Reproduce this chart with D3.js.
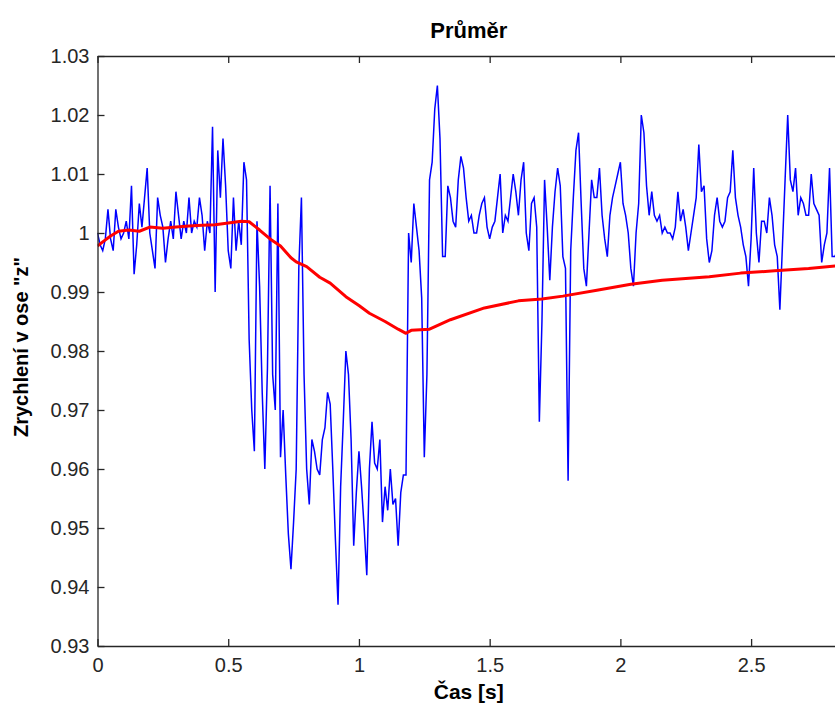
<!DOCTYPE html>
<html>
<head>
<meta charset="utf-8">
<script src="https://cdn.jsdelivr.net/npm/d3@7"></script>
<style>
  html, body { margin: 0; padding: 0; background: #fff; }
  svg { display: block; font-family: "Liberation Sans", Arial, sans-serif; }
  .axis path, .axis line { stroke: #262626; stroke-width: 1.3; }
  .axis text { fill: #262626; font-size: 20px; }
</style>
</head>
<body>
<div id="chart"></div>
<script>
  // ================================================
  // 1. DATA
  // ================================================
  const chartTitle = "Průměr";
  const xLabel = "Čas [s]";
  const yLabel = "Zrychlení v ose \"z\"";

  const xTicks = [0, 0.5, 1, 1.5, 2, 2.5];
  const xTickLabels = ["0", "0.5", "1", "1.5", "2", "2.5"];
  const yTicks = [0.93, 0.94, 0.95, 0.96, 0.97, 0.98, 0.99, 1.00, 1.01, 1.02, 1.03];
  const yTickLabels = ["0.93", "0.94", "0.95", "0.96", "0.97", "0.98", "0.99", "1", "1.01", "1.02", "1.03"];

  // measured signal (blue), one sample every 0.01 s starting at t = 0
  const sampleStep = 0.01;
  const accelZ = [
    1.000, 0.998, 0.997, 0.999, 1.004, 0.999, 0.997, 1.004, 1.001, 0.999,
    1.000, 1.002, 0.999, 1.008, 0.993, 0.998, 1.005, 1.001, 1.006, 1.011,
    1.000, 0.997, 0.994, 1.006, 1.003, 1.001, 0.995, 0.999, 1.002, 0.999,
    1.007, 1.003, 0.999, 1.002, 1.000, 1.006, 1.000, 1.002, 1.001, 1.006,
    1.003, 0.997, 1.002, 1.000, 1.018, 0.990, 1.014, 1.006, 1.016, 1.008,
    0.997, 0.994, 1.006, 0.997, 1.002, 0.998, 1.012, 1.009, 0.982, 0.970,
    0.963, 1.002, 0.991, 0.973, 0.960, 0.977, 1.008, 0.976, 0.970, 1.005,
    0.962, 0.970, 0.959, 0.949, 0.943, 0.951, 0.960, 0.994, 1.006, 0.976,
    0.960, 0.954, 0.965, 0.963, 0.960, 0.959, 0.965, 0.967, 0.973, 0.971,
    0.960, 0.948, 0.937, 0.957, 0.968, 0.980, 0.976, 0.965, 0.947, 0.956,
    0.963, 0.957, 0.950, 0.942, 0.960, 0.968, 0.961, 0.960, 0.965, 0.951,
    0.957, 0.953, 0.960, 0.954, 0.955, 0.947, 0.956, 0.959, 0.959, 1.000,
    0.995, 1.005, 1.001, 0.997, 0.989, 0.962, 0.976, 1.009, 1.012, 1.021,
    1.025, 1.016, 0.996, 0.996, 1.008, 1.006, 1.002, 1.001, 1.009, 1.013,
    1.011, 1.006, 1.002, 1.003, 1.000, 1.000, 1.003, 1.005, 1.006, 1.001,
    0.999, 1.001, 1.002, 1.006, 1.010, 1.000, 1.003, 1.002, 1.006, 1.010,
    1.007, 1.003, 1.009, 1.012, 1.000, 0.997, 1.005, 1.006, 1.001, 0.968,
    0.985, 1.009, 1.001, 0.992, 1.001, 1.007, 1.011, 1.008, 0.996, 0.994,
    0.958, 0.997, 1.006, 1.014, 1.017, 1.005, 0.994, 0.991, 1.000, 1.009,
    1.006, 1.006, 1.011, 1.003, 0.999, 0.996, 1.003, 1.006, 1.008, 1.010,
    1.012, 1.005, 1.003, 1.000, 0.994, 0.991, 1.000, 1.005, 1.020, 1.017,
    1.008, 1.003, 1.007, 1.003, 1.002, 1.003, 1.000, 1.001, 1.000, 1.000,
    0.999, 1.001, 1.007, 1.002, 1.004, 1.001, 0.997, 1.000, 1.003, 1.006,
    1.015, 1.007, 1.008, 0.999, 0.995, 0.997, 1.003, 1.006, 1.002, 1.001,
    1.002, 1.006, 1.007, 1.014, 1.006, 1.003, 1.001, 0.998, 0.996, 0.991,
    0.999, 1.011, 1.000, 0.995, 1.002, 1.002, 1.000, 1.006, 1.003, 0.998,
    0.996, 0.987, 0.998, 1.009, 1.020, 1.009, 1.007, 1.011, 1.003, 1.006,
    1.005, 1.003, 1.003, 1.010, 1.005, 1.004, 1.003, 0.995, 0.998, 1.000,
    1.011, 0.996, 0.996, 0.997
  ];

  // running mean (red)
  const meanTime = [
    0.00, 0.02, 0.05, 0.08, 0.12, 0.16, 0.20, 0.25, 0.30, 0.35,
    0.40, 0.45, 0.50, 0.55, 0.58, 0.62, 0.66, 0.70, 0.74, 0.76,
    0.80, 0.85, 0.89, 0.95, 1.00, 1.04, 1.10, 1.15, 1.18, 1.20,
    1.27, 1.35, 1.48, 1.61, 1.70, 1.78, 1.91, 2.04, 2.16, 2.34,
    2.46, 2.59, 2.72, 2.84
  ];
  const meanValue = [
    0.9978, 0.9985, 0.9995, 1.0003, 1.0005, 1.0003, 1.0010, 1.0008, 1.0010, 1.0012,
    1.0013, 1.0014, 1.0017, 1.0020, 1.0019, 1.0005, 0.9990, 0.9978, 0.9958, 0.9951,
    0.9943, 0.9925, 0.9915, 0.9892, 0.9877, 0.9864, 0.9850, 0.9837, 0.9830, 0.9835,
    0.9837, 0.9853, 0.9873, 0.9885, 0.9888, 0.9893, 0.9903, 0.9913, 0.9920, 0.9926,
    0.9932, 0.9936, 0.9940, 0.9945
  ];

  // ================================================
  // 2. LAYOUT
  // ================================================
  const width = 835, height = 707;
  const plot = { left: 97.5, top: 56, right: 840, bottom: 646 };

  const x = d3.scaleLinear().domain([0, 2.84]).range([plot.left, plot.right]);
  const y = d3.scaleLinear().domain([0.93, 1.03]).range([plot.bottom, plot.top]);

  const svg = d3.select("#chart")
    .append("svg")
    .attr("width", width)
    .attr("height", height)
    .attr("viewBox", `0 0 ${width} ${height}`)
    .style("background", "#fff");

  svg.append("defs").append("clipPath")
    .attr("id", "plot-clip")
    .append("rect")
    .attr("x", plot.left)
    .attr("y", plot.top)
    .attr("width", plot.right - plot.left)
    .attr("height", plot.bottom - plot.top);

  // ================================================
  // 3. LINES
  // ================================================
  const signal = accelZ.map((v, i) => ({ t: i * sampleStep, v: v }));
  const mean = meanTime.map((t, i) => ({ t: t, v: meanValue[i] }));

  const line = d3.line()
    .x(d => x(d.t))
    .y(d => y(d.v));

  const lines = svg.append("g").attr("clip-path", "url(#plot-clip)");

  lines.append("path")
    .datum(signal)
    .attr("fill", "none")
    .attr("stroke", "#0000ff")
    .attr("stroke-width", 1.5)
    .attr("d", line);

  lines.append("path")
    .datum(mean)
    .attr("fill", "none")
    .attr("stroke", "#ff0000")
    .attr("stroke-width", 3)
    .attr("stroke-linejoin", "round")
    .attr("d", line);

  // ================================================
  // 4. AXES (matlab style, ticks inside)
  // ================================================
  svg.append("g")
    .attr("class", "axis")
    .attr("transform", `translate(0,${plot.bottom})`)
    .call(d3.axisBottom(x)
      .tickValues(xTicks)
      .tickFormat((d, i) => xTickLabels[i])
      .tickSizeInner(-7)
      .tickSizeOuter(0)
      .tickPadding(12));

  svg.append("g")
    .attr("class", "axis")
    .attr("transform", `translate(0,${plot.top})`)
    .call(d3.axisTop(x)
      .tickValues(xTicks)
      .tickFormat("")
      .tickSizeInner(-7)
      .tickSizeOuter(0));

  svg.append("g")
    .attr("class", "axis")
    .attr("transform", `translate(${plot.left},0)`)
    .call(d3.axisLeft(y)
      .tickValues(yTicks)
      .tickFormat((d, i) => yTickLabels[i])
      .tickSizeInner(-7)
      .tickSizeOuter(0)
      .tickPadding(8));

  // ================================================
  // 5. TITLE & LABELS
  // ================================================
  const midX = (plot.left + plot.right) / 2;
  const midY = (plot.top + plot.bottom) / 2;

  svg.append("text")
    .attr("x", midX)
    .attr("y", 38)
    .attr("text-anchor", "middle")
    .style("font-size", "22px")
    .style("font-weight", "bold")
    .style("fill", "#000")
    .text(chartTitle);

  svg.append("text")
    .attr("x", midX)
    .attr("y", 699)
    .attr("text-anchor", "middle")
    .style("font-size", "21px")
    .style("font-weight", "bold")
    .style("fill", "#000")
    .text(xLabel);

  svg.append("text")
    .attr("transform", `translate(28,${midY - 4}) rotate(-90)`)
    .attr("text-anchor", "middle")
    .style("font-size", "20px")
    .style("font-weight", "bold")
    .style("fill", "#000")
    .text(yLabel);
</script>
</body>
</html>
